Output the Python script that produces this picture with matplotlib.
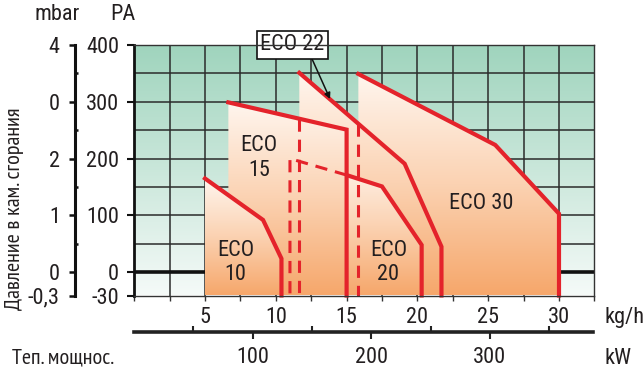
import numpy as np
import matplotlib
matplotlib.use("Agg")
import matplotlib.pyplot as plt
from matplotlib.colors import LinearSegmentedColormap
from matplotlib.patches import Polygon
from matplotlib.ticker import FixedLocator

plt.rcParams['font.family'] = ['Roboto Condensed', 'PT Sans Narrow', 'Archivo Narrow', 'DejaVu Sans']
CYR_FONT = ['PT Sans Narrow', 'Fira Sans Extra Condensed', 'Roboto Condensed', 'DejaVu Sans']

# ---------------- data ----------------
# burner working fields: (kg/h, Pa) outlines (top and right side)
eco10_x = [5.0, 9.1, 10.4]
eco10_y = [165, 92, 24]
eco15_x = [6.65, 15.0]
eco15_y = [299, 251]
eco20_x = [11.0, 15.0, 17.5, 20.3]
eco20_y = [200, 171, 151, 48]
eco22_x = [11.66, 19.1, 21.7]
eco22_y = [351, 191, 45]
eco30_x = [15.83, 25.5, 30.0]
eco30_y = [349, 224, 103]

pa_ticks = [0, 100, 200, 300, 400]
pa_labels = ['0', '100', '200', '300', '400']
pa_bottom_label = '-30'
mbar_labels = ['0', '1', '2', '0', '4']
mbar_bottom_label = '-0,3'
kgh_ticks = [5, 10, 15, 20, 25, 30]
kw_ticks = [100, 200, 300]

Y_BOTTOM = -41
X_MAX = 32.5
KW_MAX = 387

W, H = 643, 376
fig = plt.figure(figsize=(W / 100, H / 100), dpi=100)

def fx(px):
    return px / W

def fy(py):
    return 1 - py / H

L, R, T, B = 134.2, 594.4, 45, 295.5
ax = fig.add_axes([fx(L), fy(B), fx(R - L), fy(T) - fy(B)])
ax.set_xlim(0, X_MAX)
ax.set_ylim(Y_BOTTOM, 400)

TXT = '#231f20'
RED = '#e4232b'
GRID = '#2b2b2b'
FS = 16

# background gradient
bg_cmap = LinearSegmentedColormap.from_list('bg', ['#f5faf8', '#9fd4bd'])
grad = np.linspace(0, 1, 256).reshape(-1, 1)
ax.imshow(grad, extent=[0, X_MAX, Y_BOTTOM, 400], origin='lower', cmap=bg_cmap,
          aspect='auto', zorder=0, interpolation='bicubic')

# grid
for gx in np.arange(2.5, X_MAX, 2.5):
    ax.axvline(gx, color=GRID, lw=1.1, zorder=1)
for gy in np.arange(50, 400, 50):
    ax.axhline(gy, color=GRID, lw=1.1, zorder=1)
ax.axhline(0, color='#111111', lw=2.6, zorder=1.5)

or_cmap = LinearSegmentedColormap.from_list('or', ['#f6a76b', '#fbd2b2', '#fff6ef'])

def region(xs, ys, z):
    px = [xs[0]] + list(xs) + [xs[-1]]
    py = [Y_BOTTOM] + list(ys) + [Y_BOTTOM]
    poly = Polygon(np.column_stack([px, py]), closed=True, facecolor='none',
                   edgecolor='none', transform=ax.transData)
    ax.add_patch(poly)
    top = max(ys)
    im = ax.imshow(grad, extent=[min(px), max(px), Y_BOTTOM, top], origin='lower',
                   cmap=or_cmap, aspect='auto', zorder=z, interpolation='bicubic')
    im.set_clip_path(poly)
    ax.plot(list(xs) + [xs[-1]], list(ys) + [Y_BOTTOM], color=RED, lw=3,
            zorder=z + 0.1, solid_joinstyle='miter', clip_on=False)

region(eco30_x, eco30_y, 2)
region(eco22_x, eco22_y, 3)
region(eco20_x, eco20_y, 4)
region(eco15_x, eco15_y, 5)
region(eco10_x, eco10_y, 6)

# hidden edges (dashed)
dash = dict(color=RED, lw=2.2, linestyle=(0, (4, 2.6)), zorder=7)
y22 = np.interp(eco22_x[0], eco15_x, eco15_y)
ax.plot([eco22_x[0], eco22_x[0]], [y22, Y_BOTTOM], **dash)
y30 = np.interp(eco30_x[0], eco22_x, eco22_y)
ax.plot([eco30_x[0], eco30_x[0]], [y30, Y_BOTTOM], **dash)
ax.plot([eco20_x[1], eco20_x[0], eco20_x[0]], [eco20_y[1], eco20_y[0], Y_BOTTOM], **dash)

# labels
lab = dict(color=TXT, fontsize=FS, ha='center', va='center', zorder=8, linespacing=1.2)
ax.text(7.15, 17, 'ECO\n10', **lab)
ax.text(8.8, 201, 'ECO\n15', **lab)
ax.text(17.95, 17, 'ECO\n20', **lab)
ax.text(24.5, 121, 'ECO 30', **lab)
ax.annotate('', xy=(13.83, 305), xytext=(12.53, 377),
            arrowprops=dict(arrowstyle='-|>,head_length=0.35,head_width=0.18',
                            color='#111111', lw=1.1, shrinkA=0, shrinkB=0),
            zorder=9, annotation_clip=False)
ax.text(11.18, 400, 'ECO 22', color=TXT, fontsize=FS, ha='center', va='center',
        zorder=10, clip_on=False,
        bbox=dict(boxstyle='square,pad=0.17', facecolor='white', edgecolor='#111111', lw=1.2))

# spines
for s in ['top', 'right']:
    ax.spines[s].set_color('#333333')
    ax.spines[s].set_linewidth(1.0)
ax.spines['left'].set_linewidth(2.0)
ax.spines['left'].set_color('#111111')
ax.spines['bottom'].set_linewidth(1.0)
ax.spines['bottom'].set_color('#333333')
for s in ax.spines.values():
    s.set_zorder(11)

ax.set_yticks([Y_BOTTOM] + pa_ticks)
ax.set_yticklabels([pa_bottom_label] + pa_labels)
ax.tick_params(axis='y', direction='out', length=5, width=1.5, pad=6,
               labelsize=FS, labelcolor=TXT, color='#111111')
ax.set_xticks(kgh_ticks)
ax.set_xticklabels([str(v) for v in kgh_ticks])
ax.xaxis.set_minor_locator(FixedLocator(np.arange(0, X_MAX + 0.1, 2.5)))
ax.tick_params(axis='x', which='both', direction='out', length=3.5, width=1.0,
               pad=5, labelsize=FS, labelcolor=TXT, color='#333333')

# mbar axis
axm = fig.add_axes([fx(75), fy(B), 0.0001, fy(T) - fy(B)])
axm.set_ylim(Y_BOTTOM, 400)
axm.set_xticks([])
for s in ['top', 'right', 'bottom']:
    axm.spines[s].set_visible(False)
axm.spines['left'].set_linewidth(2.2)
axm.spines['left'].set_color('#111111')
axm.patch.set_visible(False)
axm.set_yticks([Y_BOTTOM] + pa_ticks)
axm.set_yticklabels([mbar_bottom_label] + mbar_labels)
axm.yaxis.set_minor_locator(FixedLocator([50, 150, 250, 350]))
axm.tick_params(axis='y', which='major', direction='out', length=4, width=1.8, pad=7,
                labelsize=FS, labelcolor=TXT, color='#111111')
axm.tick_params(axis='y', which='minor', direction='in', length=2.5, width=1.8,
                color='#111111')

# kW axis
axk = fig.add_axes([fx(L), fy(331.7), fx(593 - L), 0.0001])
axk.set_xlim(0, KW_MAX)
axk.set_yticks([])
for s in ['top', 'right', 'left']:
    axk.spines[s].set_visible(False)
axk.spines['bottom'].set_linewidth(2.6)
axk.spines['bottom'].set_color('#222222')
axk.patch.set_visible(False)
axk.set_xticks(kw_ticks)
axk.set_xticklabels([str(v) for v in kw_ticks])
axk.xaxis.set_minor_locator(FixedLocator([50, 150, 250, 350]))
axk.tick_params(axis='x', which='major', direction='out', length=5, width=1.5, pad=6,
                labelsize=FS, labelcolor=TXT, color='#222222')
axk.tick_params(axis='x', which='minor', direction='in', length=4, width=1.5,
                color='#222222')

# figure texts
fig.text(fx(57), fy(15), 'mbar', fontsize=FS, color=TXT, ha='center', va='center')
fig.text(fx(123), fy(15), 'PA', fontsize=FS, color=TXT, ha='center', va='center')
fig.text(fx(604), fy(317), 'kg/h', fontsize=FS, color=TXT, ha='left', va='center')
fig.text(fx(605), fy(359), 'kW', fontsize=FS, color=TXT, ha='left', va='center')
fig.text(fx(12), fy(358), 'Теп. мощнос.', fontsize=16, color=TXT, ha='left', va='center',
         family=CYR_FONT)
fig.text(fx(15), fy(209), 'Давление в кам. сгорания', fontsize=16, color=TXT,
         ha='center', va='center', rotation=90, family=CYR_FONT)

fig.savefig('out.png', dpi=100)
